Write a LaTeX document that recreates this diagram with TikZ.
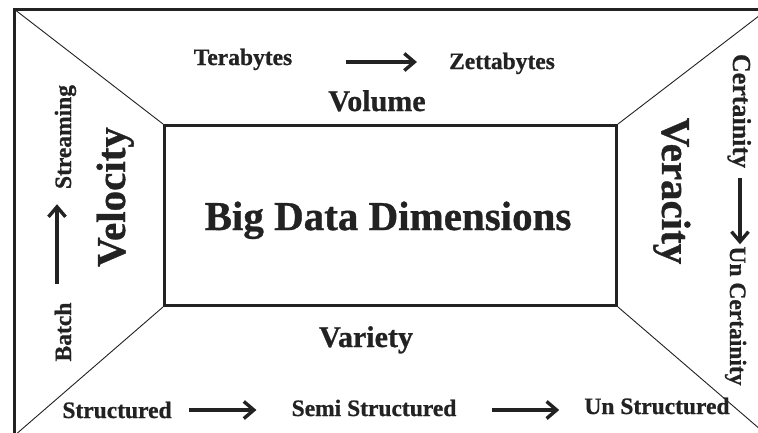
\documentclass[tikz,border=0pt]{standalone}
\usepackage{fontspec}
\setmainfont{Liberation Serif}[BoldFeatures={FakeBold=0.8}]
\usetikzlibrary{arrows.meta}
\definecolor{ink}{HTML}{222222}
\begin{document}
\begin{tikzpicture}[x=1pt,y=-1pt,
  lbl/.style={font=\fontsize{23.5}{24}\selectfont\bfseries,text=ink,inner sep=0pt},
  midlbl/.style={font=\fontsize{30}{30}\selectfont\bfseries,text=ink,inner sep=0pt},
  biglbl/.style={font=\fontsize{41}{41}\selectfont\bfseries,text=ink,inner sep=0pt},
  arr/.style={line width=3.2pt,draw=ink,-{Straight Barb[length=10pt,width=17pt,line width=3.4pt]}},
  diag/.style={draw=ink,line width=0.9pt},
  frame/.style={draw=ink,line width=3pt}]
\useasboundingbox (0,0) rectangle (758,432);
\clip (0,0) rectangle (758,432);
\fill[white] (0,0) rectangle (758,432);
% outer frame corners (right and bottom edges fall outside the picture)
\coordinate (oTL) at (14,9);
\coordinate (oTR) at (768,9);
\coordinate (oBR) at (768,436);
\coordinate (oBL) at (14,436);
\draw[frame] (oTL) rectangle (oBR);
% central box
\node[frame,minimum width=452pt,minimum height=180pt,inner sep=0pt,anchor=north west] (core) at (163,124) {};
\node[biglbl,anchor=base] (title) at (388,230) {Big Data Dimensions};
% diagonals
\draw[diag] (oTL) -- (core.north west);
\draw[diag] (oTR) -- (core.north east);
\draw[diag] (oBL) -- (core.south west);
\draw[diag] (oBR) -- (core.south east);
% guide coordinates for arrow lines
\coordinate (voly) at (0,62);
\coordinate (vary) at (0,410);
\coordinate (velx) at (57,0);
\coordinate (verx) at (740,0);
% Volume
\node[lbl,anchor=base] (tera) at (243,65) {Terabytes};
\node[lbl,anchor=base] (zetta) at (502,69) {Zettabytes};
\node[midlbl,anchor=base] (volume) at (377,111) {Volume};
\draw[arr,shorten <=54pt,shorten >=32pt] (tera.east |- voly) -- (zetta.west |- voly);
% Variety
\node[midlbl,anchor=base] (variety) at (366,347) {Variety};
\node[lbl,anchor=base] (struct) at (117,418) {Structured};
\node[lbl,anchor=base] (semi) at (374,416) {Semi Structured};
\node[lbl,anchor=base] (unstruct) at (657,414) {Un Structured};
\draw[arr,shorten <=17pt,shorten >=35pt] (struct.east |- vary) -- (semi.west |- vary);
\draw[arr,shorten <=35pt,shorten >=25pt] (semi.east |- vary) -- (unstruct.west |- vary);
% Velocity
\node[biglbl,rotate=90,anchor=base] (velocity) at (125,197) {Velocity};
\node[lbl,rotate=90,anchor=base] (batch) at (71,332) {Batch};
\node[lbl,rotate=90,anchor=base] (stream) at (71,137) {Streaming};
\draw[arr,shorten <=18pt,shorten >=15pt] (batch.east -| velx) -- (stream.west -| velx);
% Veracity
\node[biglbl,rotate=-90,anchor=base] (veracity) at (662,191) {Veracity};
\node[lbl,font=\fontsize{26}{27}\selectfont\bfseries,rotate=-90,anchor=base] (cert) at (733,111) {Certainity};
\node[lbl,rotate=-90,anchor=base] (uncert) at (730,316) {Un Certainity};
\draw[arr,shorten <=10pt,shorten >=2pt] (cert.east -| verx) -- (uncert.west -| verx);
\end{tikzpicture}
\end{document}
